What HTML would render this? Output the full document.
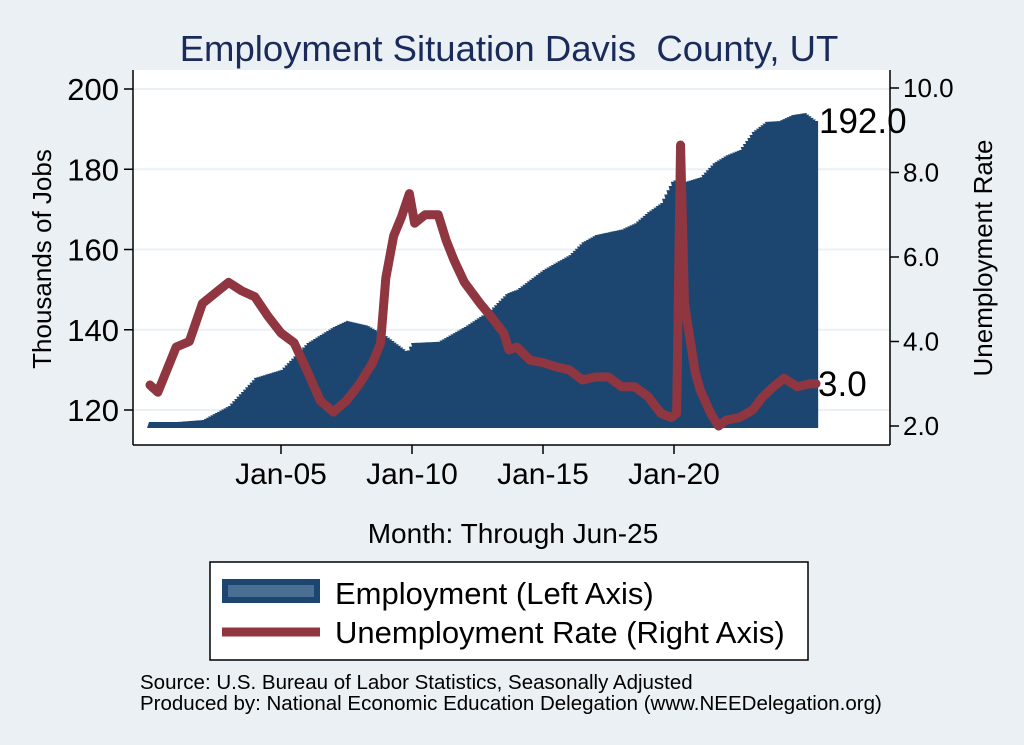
<!DOCTYPE html>
<html><head><meta charset="utf-8"><style>
body{margin:0;background:#eaf0f4;font-family:"Liberation Sans",sans-serif}
svg{display:block}
</style></head><body>
<svg width="1024" height="745" viewBox="0 0 1024 745">
<rect x="0" y="0" width="1024" height="745" fill="#eaf0f4"/>
<text x="509" y="61" text-anchor="middle" font-size="36.5" fill="#1a2b5a" xml:space="preserve">Employment Situation Davis  County, UT</text>
<rect x="133" y="70" width="757" height="375" fill="#fff"/>
<g id="grid"></g>
<g id="area"></g>
<g id="line"></g>
<g id="axes"></g>
<text x="51" y="259" transform="rotate(-90 51 259)" text-anchor="middle" font-size="26" fill="#000">Thousands of Jobs</text>
<text x="992" y="258" transform="rotate(-90 992 258)" text-anchor="middle" font-size="26" fill="#000">Unemployment Rate</text>
<text x="513" y="543" text-anchor="middle" font-size="28" fill="#000">Month: Through Jun-25</text>
<g>
<rect x="210" y="562" width="598" height="98" fill="#fff" stroke="#000" stroke-width="1.5"/>
<rect x="222" y="579" width="98" height="24" fill="#1c4670"/>
<rect x="228" y="585" width="86" height="12" fill="#4a6f93"/>
<text x="335" y="604" font-size="31">Employment (Left Axis)</text>
<line x1="222" y1="632" x2="320" y2="632" stroke="#8f3640" stroke-width="9"/>
<text x="335" y="643" font-size="31">Unemployment Rate (Right Axis)</text>
</g>
<text x="140" y="689" font-size="20.5">Source: U.S. Bureau of Labor Statistics, Seasonally Adjusted</text>
<text x="140" y="710" font-size="20.5">Produced by: National Economic Education Delegation (www.NEEDelegation.org)</text>
</svg>
<script>
const empDates=[2000,2001,2002,2003,2004,2005,2006,2007,2007.5,2008.3,2009,2009.5,2009.8,2010,2011,2012,2013,2013.6,2014,2015,2016,2016.5,2017,2018,2018.5,2019,2019.5,2019.95,2020.3,2021,2021.5,2022,2022.5,2023,2023.5,2024,2024.5,2025,2025.42];
const empValues=[117,117,117.5,121,128,130,136.7,140.7,142.2,141,138.4,136,134.5,136.7,137,140.7,145,149,150,154.9,158.6,161.8,163.6,165,166.5,169.3,171.6,177.3,176.6,178,181.5,183.5,184.8,189.3,191.8,192,193.5,194,192];
const urDates=[2000,2000.3,2001,2001.5,2002,2002.5,2003,2003.5,2004,2004.5,2005,2005.5,2006,2006.5,2007,2007.5,2008,2008.5,2008.8,2009,2009.3,2009.6,2009.9,2010.1,2010.5,2011,2011.3,2011.6,2012,2012.6,2013,2013.5,2013.7,2014,2014.5,2015,2015.5,2016,2016.5,2017,2017.5,2018,2018.5,2019,2019.5,2019.9,2020.1,2020.25,2020.4,2020.6,2020.8,2021,2021.4,2021.7,2022,2022.5,2023,2023.4,2023.8,2024.2,2024.7,2025.2,2025.42];
const urValues=[2.97,2.8,3.87,4.0,4.9,5.15,5.4,5.2,5.06,4.6,4.2,3.97,3.3,2.6,2.33,2.6,3.0,3.5,3.96,5.5,6.5,6.95,7.5,6.8,7.0,7.0,6.4,5.93,5.4,4.9,4.6,4.2,3.8,3.87,3.56,3.5,3.4,3.33,3.09,3.16,3.16,2.93,2.93,2.7,2.3,2.2,2.3,8.65,4.9,4.1,3.3,2.85,2.3,2.0,2.14,2.2,2.38,2.7,2.93,3.13,2.93,3.0,3.0];
const leftTicks=[120,140,160,180,200];
const rightTicks=[2.0,4.0,6.0,8.0,10.0];
const xTicks=[2005,2010,2015,2020];
const xTickLabels=["Jan-05","Jan-10","Jan-15","Jan-20"];
const baseValue=115.5;
const NS="http://www.w3.org/2000/svg";
const xS=t=>150+(t-2000)*26.2;
const yL=v=>410-(v-120)*4.0125;
const yR=v=>426-(v-2)*42.25;
function mk(tag,attrs,parent,text){const e=document.createElementNS(NS,tag);for(const k in attrs)e.setAttribute(k,attrs[k]);if(text!==undefined)e.textContent=text;parent.appendChild(e);return e;}
const grid=document.getElementById('grid'),area=document.getElementById('area'),line=document.getElementById('line'),axes=document.getElementById('axes');
leftTicks.forEach(v=>{const g=mk('line',{x1:133,x2:890,y1:yL(v),y2:yL(v),stroke:'#eaf0f4','stroke-width':2},grid);

});
function interp(ds,vs,t){if(t<=ds[0])return vs[0];for(let i=1;i<ds.length;i++){if(t<=ds[i]){const f=(t-ds[i-1])/(ds[i]-ds[i-1]);return vs[i-1]+f*(vs[i]-vs[i-1]);}}return vs[vs.length-1];}
let d=`M${xS(2000)-3},${yL(baseValue)}`;
const last=empDates[empDates.length-1];
for(let t=2000;t<=last+1e-6;t+=1/12){const v=interp(empDates,empValues,t);const y=yL(v);d+=` L${xS(t)-1},${y} L${xS(t+1/12)},${y}`;}
d+=` L${xS(last+1/12)},${yL(baseValue)} Z`;
const ar=mk('path',{d:d,fill:'#1c4670'},area);


const pts=urDates.map((t,i)=>`${xS(t)},${yR(urValues[i])}`).join(' ');
const pl=mk('polyline',{points:pts,fill:'none',stroke:'#8f3640','stroke-width':9,'stroke-linejoin':'round','stroke-linecap':'round'},line);


let a=mk('line',{x1:133,x2:133,y1:70,y2:445,stroke:'#000','stroke-width':1.5},axes);


a=mk('line',{x1:890,x2:890,y1:70,y2:445,stroke:'#000','stroke-width':1.5},axes);


a=mk('line',{x1:133,x2:890,y1:445,y2:445,stroke:'#000','stroke-width':1.5},axes);


leftTicks.forEach(v=>{const y=yL(v);mk('line',{x1:124,x2:133,y1:y,y2:y,stroke:'#000','stroke-width':1.5},axes);
const t=mk('text',{x:119,y:y+11,'text-anchor':'end','font-size':31},axes,String(v));

});
rightTicks.forEach(v=>{const y=yR(v);mk('line',{x1:890,x2:899,y1:y,y2:y,stroke:'#000','stroke-width':1.5},axes);
const t=mk('text',{x:903,y:y+9,'font-size':26},axes,v.toFixed(1));

});
xTicks.forEach((v,i)=>{const x=xS(v);mk('line',{x1:x,x2:x,y1:445,y2:454,stroke:'#000','stroke-width':1.5},axes);
const t=mk('text',{x:x,y:484,'text-anchor':'middle','font-size':30},axes,xTickLabels[i]);

});
let lb=mk('text',{x:xS(last)+3,y:yL(empValues[empValues.length-1])+12,'font-size':35},axes,empValues[empValues.length-1].toFixed(1));


lb=mk('text',{x:xS(last)+2,y:yR(urValues[urValues.length-1])+12,'font-size':35},axes,urValues[urValues.length-1].toFixed(1));


</script>
</body></html>
